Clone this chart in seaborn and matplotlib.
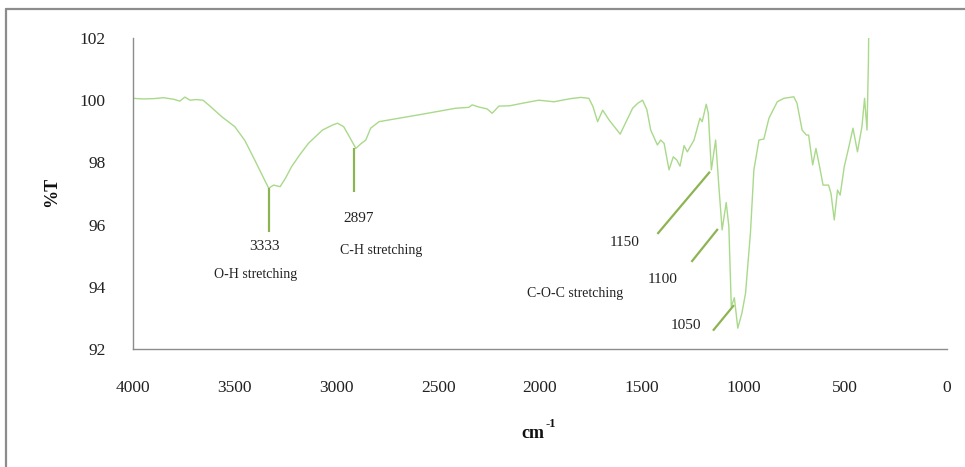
import numpy as np
import pandas as pd
import matplotlib
matplotlib.use("Agg")
import matplotlib.pyplot as plt
import seaborn as sns
from matplotlib.lines import Line2D

# ---------------- data ----------------
wavenumber = [4000, 3950, 3900, 3850, 3800, 3770, 3745, 3720, 3690, 3656, 3620, 3564,
              3500, 3450, 3402, 3353, 3333, 3309, 3277, 3250, 3221, 3180, 3137, 3069,
              3020, 2995, 2965, 2937, 2905, 2880, 2856, 2832, 2791, 2711, 2578, 2416,
              2350, 2333, 2300, 2260, 2235, 2202, 2150, 2088, 2006, 1931, 1850, 1799,
              1760, 1740, 1717, 1692, 1660, 1606, 1545, 1520, 1496, 1475, 1456, 1423,
              1407, 1390, 1366, 1345, 1328, 1312, 1292, 1276, 1243, 1214, 1203, 1183,
              1173, 1158, 1137, 1121, 1105, 1085, 1072, 1060, 1045, 1028, 1008, 990,
              975, 966, 949, 924, 900, 875, 834, 802, 753, 737, 712, 691, 680, 660,
              644, 626, 609, 582, 570, 554, 538, 525, 505, 484, 462, 440, 418, 405,
              393, 386, 385]
transmittance = [100.06, 100.04, 100.05, 100.08, 100.03, 99.97, 100.1, 100.0, 100.02, 100.0, 99.8, 99.47,
                 99.15, 98.7, 98.08, 97.43, 97.17, 97.27, 97.22, 97.5, 97.86, 98.25, 98.62, 99.04,
                 99.2, 99.26, 99.15, 98.83, 98.45, 98.6, 98.72, 99.1, 99.31, 99.4, 99.55, 99.74,
                 99.77, 99.85, 99.78, 99.72, 99.58, 99.81, 99.82, 99.9, 100.0, 99.95, 100.05, 100.09,
                 100.06, 99.8, 99.31, 99.68, 99.36, 98.91, 99.74, 99.9, 100.0, 99.7, 99.04, 98.56,
                 98.72, 98.61, 97.76, 98.18, 98.08, 97.88, 98.54, 98.34, 98.72, 99.42, 99.31, 99.87,
                 99.58, 97.76, 98.72, 97.22, 95.83, 96.71, 95.94, 93.36, 93.65, 92.67, 93.15, 93.79,
                 95.0, 95.72, 97.76, 98.72, 98.75, 99.42, 99.95, 100.06, 100.11, 99.9, 99.04, 98.88, 98.88, 97.92,
                 98.45, 97.86, 97.27, 97.27, 97.0, 96.15, 97.11, 96.95, 97.86, 98.45, 99.1, 98.34, 99.15, 100.06,
                 99.04, 101.3, 102.0]

x_ticks = [4000, 3500, 3000, 2500, 2000, 1500, 1000, 500, 0]
y_ticks = [92, 94, 96, 98, 100, 102]

# annotation leader lines (x0, y0) -> (x1, y1)
lead_x0 = [3333, 2913, 1423, 1256, 1150]
lead_y0 = [97.17, 98.45, 95.70, 94.80, 92.59]
lead_x1 = [3333, 2913, 1165, 1126, 1047]
lead_y1 = [95.75, 97.06, 97.70, 95.86, 93.41]

# annotation texts
ann_text = ["3333", "O-H stretching", "2897", "C-H stretching",
            "1150", "1100", "C-O-C stretching", "1050"]
ann_x = [3354, 3397, 2889, 2782, 1583, 1399, 1827, 1281]
ann_y = [95.31, 94.38, 96.20, 95.18, 95.43, 94.25, 93.79, 92.75]

x_label = "cm"
x_label_sup = "-1"
y_label = "%T"

# ---------------- style ----------------
sns.set_style("white")
plt.rcParams["font.family"] = ["Liberation Serif", "DejaVu Serif"]

df = pd.DataFrame({"wn": wavenumber, "T": transmittance})

fig = plt.figure(figsize=(9.65, 4.67), dpi=100)
ax = fig.add_axes([133 / 965, 1 - 349 / 467, 814 / 965, 311 / 467])

sns.lineplot(data=df, x="wn", y="T", ax=ax, color="#a9d98a", linewidth=1.0,
             sort=False, estimator=None)
ax.set_xlabel("")
ax.set_ylabel("")

lead_color = "#8db453"
for x0, y0, x1, y1 in zip(lead_x0, lead_y0, lead_x1, lead_y1):
    ax.plot([x0, x1], [y0, y1], color=lead_color, linewidth=1.6, solid_capstyle="butt")

for t, x, y in zip(ann_text, ann_x, ann_y):
    fs = 11 if t[0].isdigit() else 10
    ax.text(x, y, t, ha="center", va="center", fontsize=fs, color="#222222")

ax.set_xlim(4000, 0)
ax.set_ylim(92, 102)
ax.set_xticks(x_ticks)
ax.set_yticks(y_ticks)
ax.set_xticklabels([str(v) for v in x_ticks])
ax.set_yticklabels([str(v) for v in y_ticks])

for s in ["top", "right"]:
    ax.spines[s].set_visible(False)
for s in ["left", "bottom"]:
    ax.spines[s].set_color("#8c8c8c")
    ax.spines[s].set_linewidth(1.0)

ax.tick_params(axis="both", direction="out", length=6.5, width=1.0, color="#8c8c8c",
               labelsize=12.5, labelcolor="#222222")
ax.tick_params(axis="x", pad=16)
ax.tick_params(axis="y", pad=13)

# axis titles
ax.text((533 - 133) / 814, (349 - 433) / 311, x_label, transform=ax.transAxes,
        ha="center", va="center", fontsize=13, fontweight="bold", color="#111111")
ax.text((546 - 133) / 814, (349 - 424) / 311, x_label_sup, transform=ax.transAxes,
        ha="left", va="center", fontsize=9, fontweight="bold", color="#111111")
ax.text((52 - 133) / 814, (349 - 192) / 311, y_label, transform=ax.transAxes,
        ha="center", va="center", rotation=90, fontsize=13, fontweight="bold", color="#111111")

# outer frame (left and top edges)
fig.add_artist(Line2D([5.5 / 965, 5.5 / 965], [0, 1 - 8.5 / 467], transform=fig.transFigure,
                      color="#8c8c8c", linewidth=1.6))
fig.add_artist(Line2D([5.5 / 965, 1], [1 - 8.5 / 467, 1 - 8.5 / 467], transform=fig.transFigure,
                      color="#8c8c8c", linewidth=1.6))

fig.savefig("out.png", dpi=100)
